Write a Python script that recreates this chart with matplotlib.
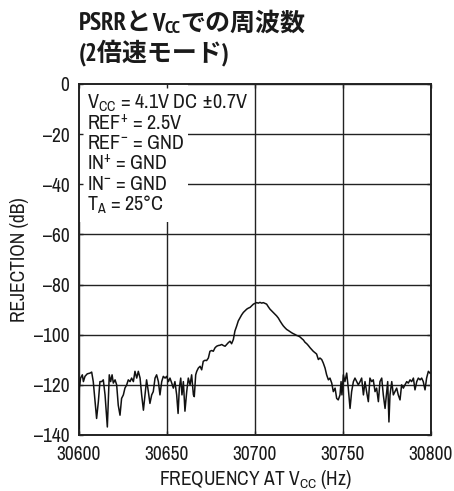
import matplotlib
matplotlib.use("Agg")
import matplotlib.pyplot as plt
from matplotlib.patches import Rectangle

# PSRR measurement: rejection versus supply ripple frequency
freq_hz = [
    30600.0, 30600.2, 30600.9, 30601.9, 30602.5, 30603.4, 30604.7, 30606.3, 30607.2, 30608.1,
    30609.1, 30610.0, 30611.0, 30611.9, 30612.9, 30613.8, 30614.8, 30616.1, 30617.2, 30618.0,
    30618.8, 30619.5, 30620.5, 30621.4, 30622.3, 30623.3, 30624.2, 30625.2, 30626.1, 30627.1,
    30628.0, 30629.0, 30629.9, 30630.9, 30631.8, 30632.8, 30633.7, 30634.7, 30635.6, 30636.6,
    30637.5, 30638.4, 30639.4, 30640.3, 30641.3, 30642.2, 30643.2, 30644.1, 30645.1, 30646.0,
    30647.0, 30647.9, 30648.9, 30649.8, 30650.8, 30651.7, 30652.7, 30653.6, 30654.5, 30655.5,
    30656.3, 30657.0, 30657.8, 30658.5, 30659.3, 30660.2, 30661.2, 30662.1, 30663.1, 30664.0,
    30665.0, 30665.5, 30666.3, 30666.9, 30667.8, 30668.8, 30669.7, 30670.6, 30671.6, 30672.5,
    30673.5, 30674.4, 30675.4, 30676.3, 30677.3, 30678.2, 30679.2, 30680.1, 30681.1, 30682.0,
    30683.0, 30683.9, 30684.8, 30685.8, 30686.7, 30687.7, 30688.6, 30689.6, 30690.5, 30691.5,
    30692.4, 30693.4, 30694.3, 30695.3, 30696.2, 30697.2, 30698.1, 30699.1, 30700.0, 30700.9,
    30701.9, 30702.8, 30703.8, 30704.7, 30705.7, 30706.6, 30707.6, 30708.5, 30709.5, 30710.4,
    30711.4, 30712.3, 30713.3, 30714.2, 30715.2, 30716.1, 30717.0, 30718.0, 30718.9, 30719.9,
    30720.8, 30721.8, 30722.7, 30723.7, 30724.6, 30725.6, 30726.5, 30727.5, 30728.4, 30729.4,
    30730.3, 30731.3, 30732.2, 30733.1, 30734.1, 30735.0, 30736.0, 30736.9, 30737.9, 30738.8,
    30739.8, 30740.7, 30741.7, 30742.6, 30743.6, 30744.5, 30745.5, 30746.4, 30747.3, 30748.3,
    30748.9, 30749.4, 30750.2, 30751.1, 30752.1, 30753.0, 30754.0, 30754.9, 30755.9, 30756.8,
    30757.8, 30758.7, 30759.7, 30760.6, 30761.6, 30762.5, 30763.4, 30764.4, 30765.3, 30766.3,
    30767.2, 30768.2, 30769.1, 30770.1, 30771.0, 30772.0, 30772.9, 30773.9, 30774.8, 30775.4,
    30776.1, 30776.7, 30777.7, 30778.6, 30779.5, 30780.5, 30781.4, 30782.4, 30783.3, 30784.3,
    30785.2, 30786.2, 30787.1, 30788.1, 30789.0, 30790.0, 30790.9, 30791.9, 30792.8, 30793.8,
    30794.7, 30795.6, 30796.6, 30797.5, 30798.5, 30799.4,
]
rejection_db = [
    -137.4, -121.3, -117.3, -116.0, -118.7, -116.6, -115.6, -115.3, -114.9, -118.7,
    -126.7, -133.4, -126.7, -118.7, -118.7, -118.0, -124.0, -136.8, -116.0, -118.7,
    -116.0, -119.3, -118.0, -120.0, -128.1, -132.1, -125.4, -124.0, -121.3, -120.0,
    -118.0, -118.7, -117.3, -118.7, -114.6, -117.3, -114.6, -117.3, -124.0, -130.1,
    -124.0, -118.0, -122.7, -127.4, -124.0, -122.7, -117.3, -116.0, -118.7, -124.0,
    -118.7, -116.6, -117.3, -116.6, -118.7, -117.3, -119.3, -121.3, -118.7, -124.0,
    -131.4, -121.3, -117.3, -124.0, -118.7, -130.5, -122.7, -117.3, -120.0, -116.0,
    -124.0, -124.7, -116.0, -114.6, -113.3, -112.6, -114.0, -110.6, -110.2, -110.3,
    -109.3, -106.6, -106.3, -106.6, -105.2, -104.6, -104.3, -104.2, -103.9, -104.3,
    -104.6, -103.9, -103.2, -102.6, -103.6, -101.9, -98.5, -96.5, -94.5, -93.2,
    -92.1, -91.1, -90.5, -89.8, -89.4, -89.1, -88.5, -87.8, -87.5, -87.2,
    -87.4, -87.1, -87.4, -87.2, -87.5, -87.8, -88.9, -89.8, -90.5, -91.1,
    -91.8, -92.5, -93.4, -94.5, -95.6, -96.5, -97.2, -97.9, -98.3, -98.8,
    -99.2, -99.6, -99.9, -100.3, -100.5, -100.9, -101.5, -102.1, -103.0, -103.6,
    -104.3, -105.2, -105.9, -106.6, -107.2, -107.7, -109.9, -109.3, -109.9, -111.3,
    -113.3, -116.0, -118.0, -117.3, -119.3, -122.7, -121.3, -125.4, -126.0, -124.0,
    -118.7, -124.0, -116.0, -118.7, -115.3, -121.3, -129.4, -122.7, -118.7, -117.3,
    -118.7, -120.0, -118.7, -117.3, -124.0, -118.7, -122.7, -126.7, -117.3, -118.7,
    -118.0, -122.7, -121.3, -126.7, -118.7, -117.3, -124.0, -129.4, -122.7, -118.7,
    -134.8, -124.0, -118.7, -124.0, -122.7, -121.3, -124.0, -126.0, -120.0, -121.3,
    -120.0, -118.7, -119.3, -118.0, -118.7, -117.3, -122.0, -118.7, -117.3, -118.0,
    -117.3, -118.7, -122.0, -117.3, -114.6, -115.3,
]

x_ticks = [30600, 30650, 30700, 30750, 30800]
y_ticks = [0, -20, -40, -60, -80, -100, -120, -140]

conditions = [
    r"V$_{\mathregular{CC}}$ = 4.1V DC ±0.7V",
    r"REF$^{+}$ = 2.5V",
    r"REF$^{-}$ = GND",
    r"IN$^{+}$ = GND",
    r"IN$^{-}$ = GND",
    r"T$_{\mathregular{A}}$ = 25°C",
]

# title runs: (text, is_subscript)
title_line1 = [("PSRRと", False), ("V", False), ("CC", True), ("での周波数", False)]
title_line2 = [("(2倍速モード)", False)]

LATIN = "Archivo Narrow"
INK = "#1a1a1a"
plt.rcParams["font.family"] = [LATIN, "Liberation Sans", "DejaVu Sans"]
plt.rcParams["mathtext.fontset"] = "custom"
plt.rcParams["mathtext.rm"] = LATIN
plt.rcParams["mathtext.it"] = LATIN
plt.rcParams["mathtext.bf"] = LATIN + ":bold"

W, H = 454, 491
fig = plt.figure(figsize=(W / 100, H / 100), dpi=100)
ax = fig.add_axes([79 / W, 1 - 435 / H, 352 / W, 351 / H])

ax.set_xlim(30600, 30800)
ax.set_ylim(-140, 0)
ax.set_xticks(x_ticks)
ax.set_yticks(y_ticks)
ax.set_xticklabels([str(t) for t in x_ticks])
ax.set_yticklabels([("\u2013" + str(-t)) if t < 0 else str(t) for t in y_ticks])
ax.tick_params(direction="in", length=3, width=1.0, top=True, right=True,
               labelsize=14, pad=7, colors="#222222", labelcolor=INK)
for s in ax.spines.values():
    s.set_linewidth(1.4)
    s.set_color("#222222")

# grid drawn beneath the condition panel
for t in x_ticks:
    ax.axvline(t, color="#222222", linewidth=1.0, zorder=1)
for t in y_ticks:
    ax.axhline(t, color="#222222", linewidth=1.0, zorder=1)

# blank panel behind the test conditions
panel_bottom = 1 - (222 - 84) / 351
ax.add_patch(Rectangle((0, panel_bottom), 109 / 352, 1 - panel_bottom,
                       transform=ax.transAxes, facecolor="white", edgecolor="none",
                       zorder=1.5))

ax.plot(freq_hz, rejection_db, color="#111111", linewidth=1.1, zorder=3)

for i, line in enumerate(conditions):
    ax.text(8 / 352, 1 - (19 + i * 20.3) / 351, line, transform=ax.transAxes,
            fontsize=14.5, ha="left", va="center", color=INK, zorder=4)

ax.set_xlabel(r"FREQUENCY AT V$_{\mathregular{CC}}$ (Hz)", fontsize=14, color=INK, labelpad=3)
ax.set_ylabel("REJECTION (dB)", fontsize=14, color=INK, labelpad=3)

# bold two-line heading, laid out run by run so CJK glyphs fall back cleanly
title_fam = ["PT Sans Narrow", "Noto Sans CJK JP", "DejaVu Sans"]
renderer = fig.canvas.get_renderer()


def draw_runs(runs, x_px, baseline_px, size):
    x = x_px
    for text, sub in runs:
        fs = size * 0.72 if sub else size
        y = baseline_px + (2 if sub else 0)
        t = fig.text(x / W, 1 - y / H, text, family=title_fam, fontweight="bold",
                     fontsize=fs, ha="left", va="baseline", color=INK)
        bb = t.get_window_extent(renderer)
        x += bb.width


draw_runs(title_line1, 79, 31, 18)
draw_runs(title_line2, 79, 60, 18)

fig.savefig("out.png", dpi=100)
